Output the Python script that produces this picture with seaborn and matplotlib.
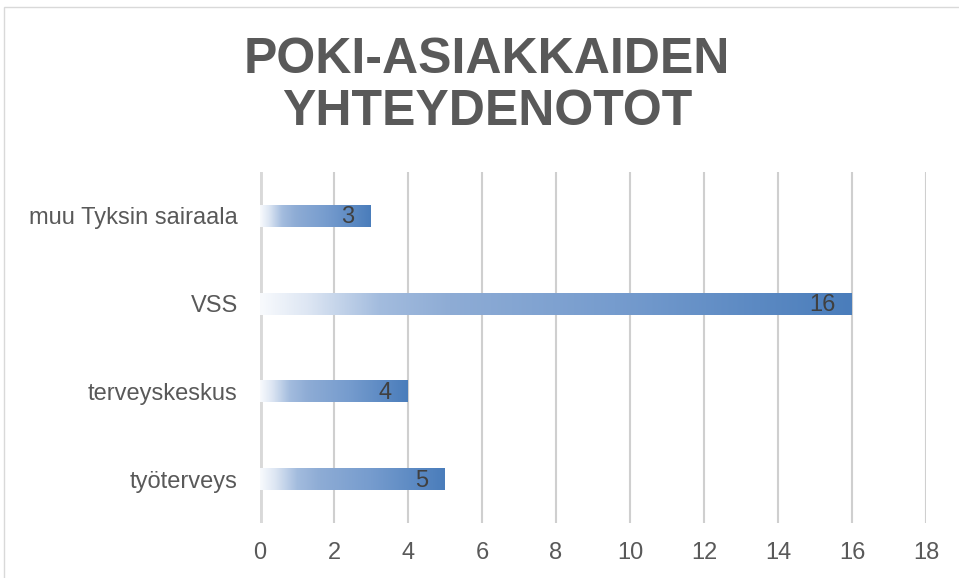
import numpy as np
import pandas as pd
import matplotlib
matplotlib.use("Agg")
import matplotlib.pyplot as plt
from matplotlib.colors import LinearSegmentedColormap
from matplotlib.patches import Rectangle
import seaborn as sns

categories = ["muu Tyksin sairaala", "VSS", "terveyskeskus", "työterveys"]
values = [3, 16, 4, 5]
x_ticks = [0, 2, 4, 6, 8, 10, 12, 14, 16, 18]
title_text = "POKI-ASIAKKAIDEN\nYHTEYDENOTOT"

sns.set_theme(style="white")
plt.rcParams["font.family"] = ["Liberation Sans", "DejaVu Sans"]

df = pd.DataFrame({"kategoria": categories, "lkm": values})

fig = plt.figure(figsize=(9.59, 5.78), dpi=100)
ax = fig.add_axes([260 / 959, 1 - 523 / 578, (926 - 260) / 959, (523 - 172) / 578])

sns.barplot(data=df, x="lkm", y="kategoria", orient="h", ax=ax,
            width=0.25, color="#4f81bd", saturation=1)

cmap = LinearSegmentedColormap.from_list(
    "grad",
    [(0.0, "#f8fafd"), (0.08, "#dde6f3"), (0.2, "#a3bcde"),
     (0.32, "#8eacd5"), (0.6, "#769cce"), (1.0, "#4a7dbb")])
grad = np.linspace(0, 1, 256).reshape(1, -1)

for patch, v in zip(ax.patches, values):
    x0, y0 = patch.get_x(), patch.get_y()
    w, h = patch.get_width(), patch.get_height()
    patch.set_facecolor("none")
    patch.set_edgecolor("none")
    ax.imshow(grad, cmap=cmap, aspect="auto", extent=[x0, x0 + w, y0 + h, y0],
              zorder=2, interpolation="bicubic")
    ax.annotate(str(v), xy=(x0 + w, y0 + h / 2), xytext=(-12, -1),
                textcoords="offset points", ha="right", va="center",
                fontsize=17, color="#404040", zorder=3)

ax.set_xlim(0, 18)
ax.set_ylim(3.5, -0.5)
ax.set_xticks(x_ticks)
ax.set_xticklabels([str(t) for t in x_ticks])
ax.set_xlabel("")
ax.set_ylabel("")
ax.grid(False)
for t in x_ticks[1:]:
    ax.axvline(t, color="#cfcfcf", lw=1.5, zorder=1)
ax.axvline(0, color="#d9d9d9", lw=3.5, zorder=1)
for s in ax.spines.values():
    s.set_visible(False)
ax.tick_params(axis="x", length=0, pad=14, labelsize=17, labelcolor="#595959")
ax.tick_params(axis="y", length=0, pad=16, labelsize=17, labelcolor="#595959")

fig.text(487 / 959, 1 - 86 / 578, title_text, ha="center", va="center",
         fontsize=36, fontweight="bold", color="#595959", linespacing=1.18)

fig.patches.append(Rectangle((4 / 959, -0.1), 1.2, 1 - 7 / 578 + 0.1,
                             transform=fig.transFigure, fill=False,
                             edgecolor="#d9d9d9", lw=1))

fig.savefig("out.png", dpi=100, facecolor="white")
